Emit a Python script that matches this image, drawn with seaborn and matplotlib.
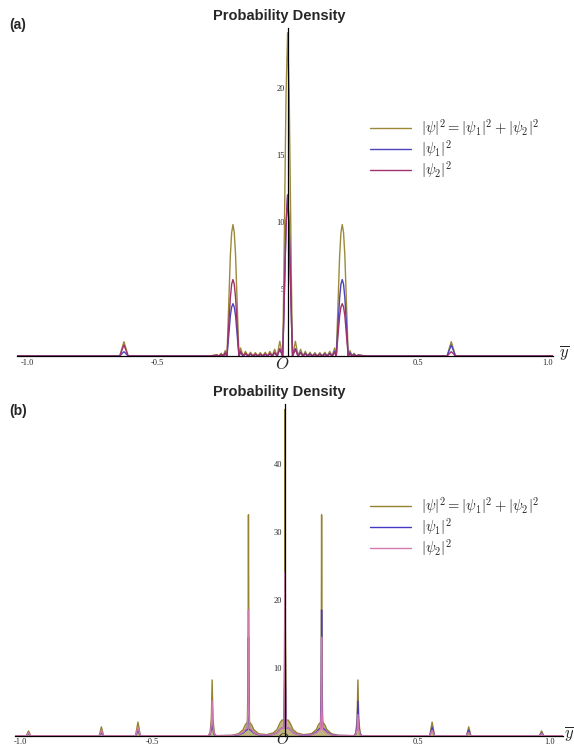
import numpy as np
import pandas as pd
import seaborn as sns
import matplotlib.pyplot as plt
from matplotlib.ticker import MultipleLocator, FixedLocator

# values (x in units of y-bar)
# panel (a): points for |psi|^2, |psi1|^2, |psi2|^2
a_x = [-1.04,
       -0.645, -0.637, -0.629, -0.621, -0.613,
       -0.30, -0.272, -0.264, -0.255, -0.247, -0.240, -0.233,
       -0.229, -0.2245, -0.220, -0.215, -0.210, -0.205, -0.200, -0.1955, -0.191,
       -0.187, -0.181, -0.171, -0.162, -0.152, -0.143, -0.133, -0.124, -0.114,
       -0.105, -0.095, -0.086, -0.077, -0.068, -0.059, -0.050, -0.040, -0.030,
       -0.019, -0.015, -0.012, -0.006, 0.0, 0.006, 0.012, 0.015, 0.019,
       0.030, 0.040, 0.050, 0.059, 0.068, 0.077, 0.086, 0.095, 0.105,
       0.114, 0.124, 0.133, 0.143, 0.152, 0.162, 0.171, 0.181, 0.187,
       0.191, 0.1955, 0.200, 0.205, 0.210, 0.215, 0.220, 0.2245, 0.229,
       0.233, 0.240, 0.247, 0.255, 0.264, 0.272, 0.30,
       0.613, 0.621, 0.629, 0.637, 0.645,
       1.02]
a_total = [0,
           0, 0.55, 1.07, 0.55, 0,
           0, 0.10, 0, 0.20, 0, 0.40, 0,
           2.3, 4.9, 7.5, 9.2, 9.8, 9.2, 7.5, 4.9, 2.3,
           0, 0.60, 0, 0.35, 0, 0.28, 0, 0.25, 0,
           0.25, 0, 0.28, 0, 0.35, 0, 0.50, 0, 1.10,
           0, 5.0, 10.0, 19.5, 24.1, 19.5, 10.0, 5.0, 0,
           1.10, 0, 0.50, 0, 0.35, 0, 0.28, 0, 0.25,
           0, 0.25, 0, 0.28, 0, 0.35, 0, 0.60, 0,
           2.3, 4.9, 7.5, 9.2, 9.8, 9.2, 7.5, 4.9, 2.3,
           0, 0.40, 0, 0.20, 0, 0.10, 0,
           0, 0.55, 1.07, 0.55, 0,
           0]
a_psi1 = [0,
          0, 0.17, 0.32, 0.17, 0,
          0, 0.04, 0, 0.08, 0, 0.16, 0,
          0.9, 1.95, 3.0, 3.65, 3.9, 3.65, 3.0, 1.95, 0.9,
          0, 0.25, 0, 0.15, 0, 0.12, 0, 0.11, 0,
          0.11, 0, 0.12, 0, 0.15, 0, 0.22, 0, 0.50,
          0, 2.5, 5.0, 9.7, 12.0, 9.7, 5.0, 2.5, 0,
          0.55, 0, 0.28, 0, 0.20, 0, 0.16, 0, 0.14,
          0, 0.14, 0, 0.16, 0, 0.20, 0, 0.35, 0,
          1.35, 2.85, 4.35, 5.35, 5.7, 5.35, 4.35, 2.85, 1.35,
          0, 0.24, 0, 0.12, 0, 0.06, 0,
          0, 0.42, 0.82, 0.42, 0,
          0]
a_psi2 = [0,
          0, 0.42, 0.82, 0.42, 0,
          0, 0.06, 0, 0.12, 0, 0.24, 0,
          1.35, 2.85, 4.35, 5.35, 5.7, 5.35, 4.35, 2.85, 1.35,
          0, 0.35, 0, 0.20, 0, 0.16, 0, 0.14, 0,
          0.14, 0, 0.16, 0, 0.20, 0, 0.28, 0, 0.55,
          0, 2.5, 5.0, 9.7, 12.0, 9.7, 5.0, 2.5, 0,
          0.50, 0, 0.22, 0, 0.15, 0, 0.12, 0, 0.11,
          0, 0.11, 0, 0.12, 0, 0.15, 0, 0.25, 0,
          0.9, 1.95, 3.0, 3.65, 3.9, 3.65, 3.0, 1.95, 0.9,
          0, 0.16, 0, 0.08, 0, 0.04, 0,
          0, 0.17, 0.32, 0.17, 0,
          0]

# panel (b)
b_x = [-1.02,
       -0.976, -0.968, -0.960,
       -0.701, -0.693, -0.685,
       -0.564, -0.555, -0.546,
       -0.290, -0.283, -0.278, -0.275, -0.272, -0.267, -0.260,
       -0.200, -0.175, -0.158, -0.150, -0.142,
       -0.1395, -0.138, -0.1365,
       -0.134, -0.126, -0.118, -0.100, -0.070,
       -0.045, -0.030, -0.020, -0.012, -0.004,
       -0.0015, 0.0, 0.0015,
       0.004, 0.012, 0.020, 0.030, 0.045,
       0.070, 0.100, 0.118, 0.126, 0.134,
       0.1365, 0.138, 0.1395,
       0.142, 0.150, 0.158, 0.175, 0.200,
       0.260, 0.267, 0.272, 0.275, 0.278, 0.283, 0.290,
       0.546, 0.555, 0.564,
       0.685, 0.693, 0.701,
       0.960, 0.968, 0.976,
       1.05]
b_total = [0,
           0, 0.7, 0,
           0, 1.3, 0,
           0, 2.0, 0,
           0, 0.4, 2.5, 8.2, 2.5, 0.4, 0,
           0.05, 0.3, 0.9, 1.6, 2.0,
           9.0, 32.5, 9.0,
           2.0, 1.6, 0.9, 0.3, 0.15,
           0.4, 0.9, 1.8, 2.3, 2.3,
           16.0, 48.0, 16.0,
           2.3, 2.3, 1.8, 0.9, 0.4,
           0.15, 0.3, 0.9, 1.6, 2.0,
           9.0, 32.5, 9.0,
           2.0, 1.6, 0.9, 0.3, 0.05,
           0, 0.4, 2.5, 8.2, 2.5, 0.4, 0,
           0, 2.0, 0,
           0, 1.3, 0,
           0, 0.7, 0,
           0]
b_psi1 = [0,
          0, 0.3, 0,
          0, 0.5, 0,
          0, 0.8, 0,
          0, 0.15, 1.0, 3.1, 1.0, 0.15, 0,
          0.02, 0.13, 0.4, 0.7, 0.9,
          4.0, 14.5, 4.0,
          0.9, 0.7, 0.4, 0.13, 0.07,
          0.2, 0.45, 0.9, 1.15, 1.15,
          8.0, 24.0, 8.0,
          1.15, 1.15, 0.9, 0.45, 0.2,
          0.08, 0.17, 0.5, 0.9, 1.1,
          5.0, 18.5, 5.0,
          1.1, 0.9, 0.5, 0.17, 0.03,
          0, 0.25, 1.5, 5.1, 1.5, 0.25, 0,
          0, 1.2, 0,
          0, 0.8, 0,
          0, 0.4, 0,
          0]
b_psi2 = [0,
          0, 0.4, 0,
          0, 0.8, 0,
          0, 1.2, 0,
          0, 0.25, 1.5, 5.1, 1.5, 0.25, 0,
          0.03, 0.17, 0.5, 0.9, 1.1,
          5.0, 18.5, 5.0,
          1.1, 0.9, 0.5, 0.17, 0.08,
          0.2, 0.45, 0.9, 1.15, 1.15,
          8.0, 24.0, 8.0,
          1.15, 1.15, 0.9, 0.45, 0.2,
          0.07, 0.13, 0.4, 0.7, 0.9,
          4.0, 14.5, 4.0,
          0.9, 0.7, 0.4, 0.13, 0.02,
          0, 0.15, 1.0, 3.1, 1.0, 0.15, 0,
          0, 0.8, 0,
          0, 0.5, 0,
          0, 0.3, 0,
          0]

labels = [r'$|\psi|^2=|\psi_1|^2+|\psi_2|^2$', r'$|\psi_1|^2$', r'$|\psi_2|^2$']
a_yticks = [5, 10, 15, 20]
b_yticks = [10, 20, 30, 40]
xticks = [-1.0, -0.5, 0.5, 1.0]

sns.set_style("white")
plt.rcParams['font.family'] = ['DejaVu Sans']
plt.rcParams['mathtext.fontset'] = 'cm'

W, H = 574, 748
fig = plt.figure(figsize=(W / 100, H / 100), dpi=100)


def fx(px):
    return px / W


def fy(py):
    return 1 - py / H


ax_a = fig.add_axes([fx(17), fy(356), fx(553 - 17), (356 - 28) / H])
ax_b = fig.add_axes([fx(14.7), fy(735.7), fx(563.3 - 14.7), (735.7 - 404) / H])

panels = [
    (ax_a, a_x, a_total, a_psi1, a_psi2, ['#9c8a3a', '#4c44bc', '#a2306c'], (-1.04, 1.02), 24.45, a_yticks, 1,
     fy(110), False),
    (ax_b, b_x, b_total, b_psi1, b_psi2, ['#96822f', '#4638c4', '#d27aae'], (-1.02, 1.05), 48.8, b_yticks, 2,
     fy(488), True),
]

for ax, x, tot, p1, p2, cols, xlim, ytop, yt, ymin, legy, filled in panels:
    df = pd.DataFrame({'x': x, labels[0]: tot, labels[1]: p1, labels[2]: p2})
    if filled:
        ax.fill_between(df['x'], df[labels[0]], color=cols[0], alpha=0.6, lw=0)
    for lab, c in zip(labels, cols):
        sns.lineplot(data=df, x='x', y=lab, ax=ax, color=c, lw=1.0, label=lab,
                     estimator=None, sort=True)
    ax.set_xlim(*xlim)
    ax.set_ylim(0, ytop)
    ax.set_xlabel('')
    ax.set_ylabel('')
    ax.spines['left'].set_position(('data', 0))
    ax.spines['top'].set_visible(False)
    ax.spines['right'].set_visible(False)
    for s in ['left', 'bottom']:
        ax.spines[s].set_linewidth(0.9)
        ax.spines[s].set_color('black')
    ax.xaxis.set_major_locator(FixedLocator(xticks))
    ax.xaxis.set_minor_locator(MultipleLocator(0.1))
    ax.yaxis.set_major_locator(FixedLocator(yt))
    ax.yaxis.set_minor_locator(MultipleLocator(ymin))
    ax.set_xticklabels(['-1.0', '-0.5', '0.5', '1.0'])
    ax.set_yticklabels([str(v) for v in yt])
    ax.tick_params(which='both', direction='in', color='black', width=0.6,
                   labelsize=6, pad=2)
    ax.tick_params(which='major', length=4)
    ax.tick_params(which='minor', length=2)
    for t in ax.get_xticklabels() + ax.get_yticklabels():
        t.set_family('Liberation Serif')
    ax.patch.set_alpha(0)
    ax.legend(loc='upper left', bbox_to_anchor=(fx(363), legy), bbox_transform=fig.transFigure,
              frameon=False, fontsize=10.5, handlelength=2.8, handletextpad=0.7,
              labelspacing=0.0, borderpad=0)

# titles, panel labels, axis labels
for ty, ly, tag in [(16, 25, '(a)'), (392, 411, '(b)')]:
    fig.text(fx(279), fy(ty), 'Probability Density', ha='center', va='center',
             fontsize=10.5, fontweight='bold', family='Liberation Sans')
    fig.text(fx(9), fy(ly), tag, ha='left', va='center',
             fontsize=10, fontweight='bold', family='Liberation Sans')

fig.text(fx(564), fy(353), r'$\overline{y}$', ha='center', va='center', fontsize=12)
fig.text(fx(569), fy(734), r'$\overline{y}$', ha='center', va='center', fontsize=12)
fig.text(fx(282), fy(364), r'$O$', ha='center', va='center', fontsize=12)
fig.text(fx(283), fy(740), r'$O$', ha='center', va='center', fontsize=11)

fig.savefig('out.png', dpi=100)
